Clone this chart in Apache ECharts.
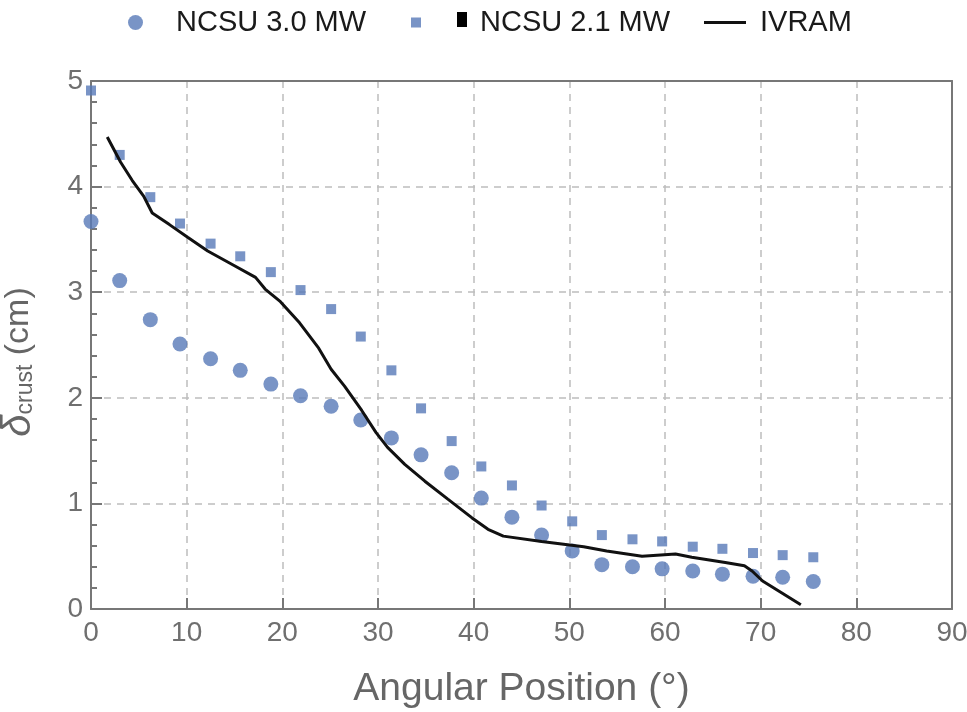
<!DOCTYPE html>
<html>
<head>
<meta charset="utf-8">
<script src="https://cdn.jsdelivr.net/npm/echarts@6/dist/echarts.min.js"></script>
<style>
    html, body { margin: 0; padding: 0; background: #fff; }
    #chart { width: 967px; height: 712px; }
</style>
</head>
<body>
<div id="chart"></div>
<script>
// angular positions of the measured points (deg)
const ncsuAngles = [0, 3.0, 6.2, 9.3, 12.5, 15.6, 18.8, 21.9, 25.1, 28.2, 31.4, 34.5, 37.7,
    40.8, 44.0, 47.1, 50.3, 53.4, 56.6, 59.7, 62.9, 66.0, 69.2, 72.3, 75.5];
// crust thickness, NCSU 3.0 MW (cm)
const ncsu30 = [3.67, 3.11, 2.74, 2.51, 2.37, 2.26, 2.13, 2.02, 1.92, 1.79, 1.62, 1.46, 1.29,
    1.05, 0.87, 0.70, 0.55, 0.42, 0.40, 0.38, 0.36, 0.33, 0.31, 0.30, 0.26];
// crust thickness, NCSU 2.1 MW (cm)
const ncsu21 = [4.91, 4.30, 3.90, 3.65, 3.46, 3.34, 3.19, 3.02, 2.84, 2.58, 2.26, 1.90, 1.59,
    1.35, 1.17, 0.98, 0.83, 0.70, 0.66, 0.64, 0.59, 0.57, 0.53, 0.51, 0.49];
// IVRAM curve
const ivramAngles = [1.7, 3.1, 4.3, 5.5, 6.4, 8.2, 10.1, 12.2, 15.0, 17.2, 18.2, 19.8, 21.8,
    23.8, 25.1, 26.5, 28.3, 29.8, 31.0, 32.8, 34.9, 37.3, 39.8, 41.5, 43.1, 47.1, 51.5, 53.9,
    57.6, 61.1, 62.8, 66.3, 68.3, 69.1, 70.2, 74.2];
const ivram = [4.47, 4.23, 4.06, 3.91, 3.75, 3.64, 3.52, 3.39, 3.25, 3.14, 3.03, 2.91, 2.71,
    2.47, 2.27, 2.11, 1.88, 1.67, 1.53, 1.37, 1.21, 1.04, 0.865, 0.755, 0.69, 0.64, 0.59, 0.55,
    0.50, 0.52, 0.49, 0.44, 0.41, 0.36, 0.265, 0.04];

const xTicks = [0, 10, 20, 30, 40, 50, 60, 70, 80, 90];
const yTicks = [0, 1, 2, 3, 4, 5];

const blue = '#5879b8';
const axisGrey = '#777777';
const labelGrey = '#6f6f6f';
const font = '"Liberation Sans", Arial, sans-serif';

function pairs(xs, ys) {
    return xs.map((x, i) => [x, ys[i]]);
}

// frame-only axis for the top and right edges of the box
function frameAxis(position, min, max) {
    return {
        type: 'value', position: position, min: min, max: max,
        axisLine: { show: true, onZero: false, lineStyle: { color: axisGrey, width: 2 } },
        axisTick: { show: false }, axisLabel: { show: false }, splitLine: { show: false }
    };
}

document.addEventListener('DOMContentLoaded', function() {
    const chart = echarts.init(document.getElementById('chart'));

    const legendText = { fontFamily: font, fontSize: 29, color: '#1a1a1a' };
    const gridLine = { show: true, lineStyle: { color: '#bdbdbd', width: 1.5, type: [7, 6] } };

    const option = {
        animation: false,
        backgroundColor: '#fff',
        grid: { left: 91, right: 15, top: 81, bottom: 103, outerBoundsMode: 'none' },
        legend: [
            {
                left: 123, top: 3, data: [{ name: 'NCSU 3.0 MW', icon: 'circle' }],
                itemWidth: 15, itemHeight: 16,
                textStyle: Object.assign({ padding: [0, 0, 0, 28] }, legendText)
            },
            {
                left: 406, top: 3, data: [{ name: 'NCSU 2.1 MW', icon: 'rect' }],
                itemWidth: 10, itemHeight: 10,
                textStyle: Object.assign({ padding: [0, 0, 0, 54] }, legendText)
            },
            {
                left: 699, top: 3, data: [{ name: 'IVRAM', icon: 'rect' }],
                itemWidth: 42, itemHeight: 3,
                itemStyle: { color: '#111' },
                textStyle: Object.assign({ padding: [0, 0, 0, 9] }, legendText)
            }
        ],
        graphic: [
            // the stray black square of the original legend
            { type: 'rect', left: 457, top: 12, shape: { width: 10, height: 15 }, style: { fill: '#000' } }
        ],
        xAxis: [
            {
                type: 'value', position: 'bottom', min: xTicks[0], max: xTicks[xTicks.length - 1], interval: 10,
                name: 'Angular Position (°)', nameLocation: 'middle', nameGap: 61,
                nameTextStyle: { fontFamily: font, fontSize: 39, color: '#666' },
                axisLine: { show: true, lineStyle: { color: axisGrey, width: 2 } },
                axisTick: { show: true, inside: true, length: 11, lineStyle: { color: axisGrey, width: 2 } },
                axisLabel: { fontFamily: font, fontSize: 28, color: labelGrey, margin: 10 },
                splitLine: gridLine
            },
            frameAxis('top', xTicks[0], xTicks[xTicks.length - 1])
        ],
        yAxis: [
            {
                type: 'value', position: 'left', min: yTicks[0], max: yTicks[yTicks.length - 1], interval: 1,
                name: '{d|δ}{s|crust} (cm)', nameLocation: 'middle', nameGap: 52, nameRotate: 90,
                nameTextStyle: {
                    fontFamily: font, fontSize: 34, color: '#666', padding: [0, 34, 0, 0],
                    rich: {
                        d: { fontFamily: font, fontSize: 40, fontStyle: 'italic', color: '#666' },
                        s: { fontFamily: font, fontSize: 23, color: '#666', padding: [14, 0, 0, 0] }
                    }
                },
                axisLine: { show: true, lineStyle: { color: axisGrey, width: 2 } },
                axisTick: { show: true, inside: true, length: 11, lineStyle: { color: axisGrey, width: 2 } },
                minorTick: { show: true, splitNumber: 5, length: 6, lineStyle: { color: axisGrey, width: 2 } },
                axisLabel: { fontFamily: font, fontSize: 28, color: labelGrey, margin: 8 },
                splitLine: gridLine
            },
            frameAxis('right', yTicks[0], yTicks[yTicks.length - 1])
        ],
        series: [
            {
                name: 'NCSU 3.0 MW', type: 'scatter', symbol: 'circle', symbolSize: 15,
                itemStyle: { color: blue }, data: pairs(ncsuAngles, ncsu30), z: 3
            },
            {
                name: 'NCSU 2.1 MW', type: 'scatter', symbol: 'rect', symbolSize: 10,
                itemStyle: { color: blue }, data: pairs(ncsuAngles, ncsu21), z: 3
            },
            {
                name: 'IVRAM', type: 'line', showSymbol: false, symbol: 'none',
                lineStyle: { color: '#111', width: 3 }, itemStyle: { color: '#111' },
                data: pairs(ivramAngles, ivram), z: 4
            }
        ]
    };
    chart.setOption(option);
});
</script>
</body>
</html>
